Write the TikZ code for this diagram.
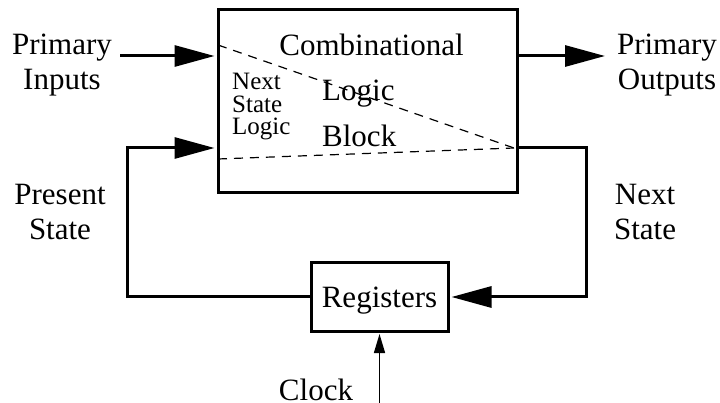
\documentclass[tikz,border=0pt]{standalone}
\usepackage{fontspec}
\setmainfont{Liberation Serif}
\usetikzlibrary{arrows.meta}
\begin{document}
\begin{tikzpicture}[x=1pt,y=-1pt,
  big/.style={font=\fontsize{31}{35}\selectfont, inner sep=0pt, anchor=base},
  bigw/.style={big, anchor=base west},
  small/.style={font=\fontsize{25}{22.5}\selectfont, inner sep=0pt, anchor=base west},
  blk/.style={draw, line width=3pt, inner sep=0pt},
  wire/.style={line width=3pt},
  bigarrow/.style={wire, -{Triangle[length=40pt,width=21pt]}},
  dashline/.style={line width=1.2pt, dash pattern=on 9pt off 7pt},
  clkarrow/.style={line width=1.5pt, -{Triangle[length=19pt,width=11pt]}}]
\useasboundingbox (0,0) rectangle (720,403);
% blocks
\node[blk, minimum width=299pt, minimum height=183pt] (clb) at (367.5,101.5) {};
\node[blk, minimum width=137pt, minimum height=68pt, font=\fontsize{31}{35}\selectfont,
      text height=22pt, text depth=0pt] (regs) at (379.5,297) {Registers};
% coordinates
\coordinate (pin) at (120,56);
\coordinate (pout) at (605,56);
\coordinate (pscorner) at (127,148);
\coordinate (nscorner) at (586,148);
\coordinate (meet) at (514,148);
\coordinate (dtop) at (218,45);
\coordinate (dbot) at (218,159);
\coordinate (clk) at (379.5,403);
% texts
\node[big] (pi1) at (62,55) {Primary};
\node[big] (pi2) at (62,90) {Inputs};
\node[big] (po1) at (667,55) {Primary};
\node[big] (po2) at (667,90) {Outputs};
\node[big] (ps1) at (60,205) {Present};
\node[big] (ps2) at (60,240) {State};
\node[big] (ns1) at (645,205) {Next};
\node[big] (ns2) at (645,240) {State};
\node[big] (comb) at (371.5,56) {Combinational};
\node[bigw] (logic) at (322,101) {Logic};
\node[bigw] (block) at (322,147) {Block};
\node[small] (nsl1) at (232,90) {Next};
\node[small] (nsl2) at (232,113) {State};
\node[small] (nsl3) at (232,135) {Logic};
\node[big] (clock) at (316,400) {Clock};
% dashed partition
\draw[dashline] (dtop) -- (meet);
\draw[dashline] (dbot) -- (meet);
% connectors
\draw[bigarrow, shorten >=2pt] (pin) -- (clb.west |- pin);
\draw[bigarrow] (clb.east |- pout) -- (pout);
\draw[bigarrow, shorten >=2pt] (regs.west) -| (pscorner) -- (clb.west |- pscorner);
\draw[bigarrow, shorten >=2pt] (clb.east |- nscorner) -- (nscorner) |- (regs.east);
\draw[clkarrow, shorten >=1.5pt] (clk) -- (regs.south);
\end{tikzpicture}
\end{document}
